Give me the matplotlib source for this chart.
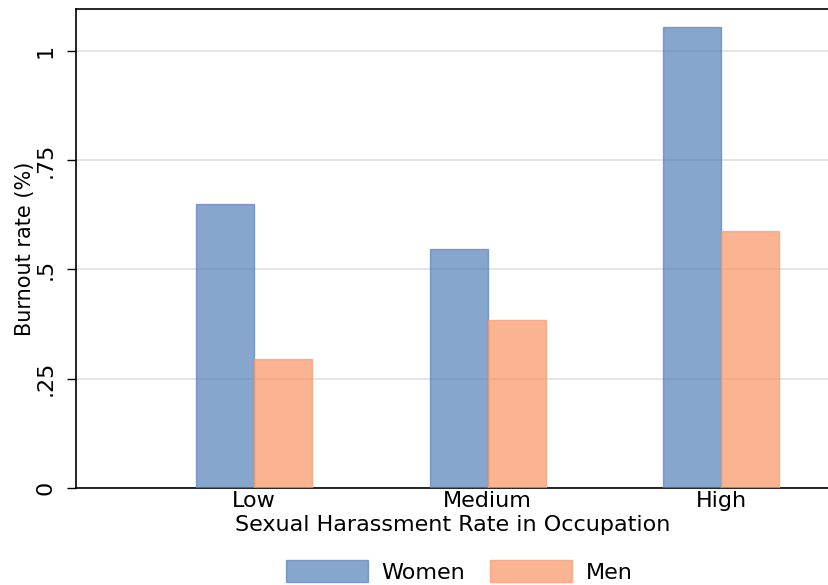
import numpy as np
import matplotlib.pyplot as plt
from matplotlib.patches import Patch

# data
categories = ["Low", "Medium", "High"]
women = [0.649, 0.548, 1.055]
men = [0.296, 0.385, 0.589]

blue = "#5481B9"
orange = "#F99563"
blue_edge = "#5A80BF"
orange_edge = "#F99A6C"
fs = 16

fig = plt.figure(figsize=(8.29, 5.85), dpi=100)
ax = fig.add_axes([0.0917, 0.1658, 0.9083, 0.8188])

x = np.arange(1, len(categories) + 1)
w = 0.248
ax.bar(x - w / 2, women, w, color=blue, alpha=0.7, edgecolor=blue_edge, linewidth=1, zorder=3)
ax.bar(x + w / 2, men, w, color=orange, alpha=0.7, edgecolor=orange_edge, linewidth=1, zorder=3)

ax.set_xlim(0.239, 3.46)
ax.set_ylim(0, 1.096)
ax.set_yticks([0, 0.25, 0.5, 0.75, 1])
ax.set_yticklabels(["0", ".25", ".5", ".75", "1"], rotation=90, va="center")
ax.set_xticks(x)
ax.set_xticklabels(categories)
ax.tick_params(axis="both", labelsize=fs, width=1)
ax.tick_params(axis="y", length=6.5, pad=8.5)
ax.tick_params(axis="x", length=0, pad=2)
ax.grid(axis="y", color="#E0E0E0", linewidth=1.2, zorder=1)
ax.set_axisbelow(True)

for s in ["top", "left", "bottom"]:
    ax.spines[s].set_linewidth(1.2)
ax.spines["right"].set_visible(False)

ax.set_xlabel("Sexual Harassment Rate in Occupation", fontsize=fs, labelpad=3)
ax.set_ylabel("Burnout rate (%)", fontsize=15, labelpad=0)

handles = [Patch(facecolor=blue, alpha=0.7, edgecolor=blue_edge, label="Women"),
           Patch(facecolor=orange, alpha=0.7, edgecolor=orange_edge, label="Men")]
fig.legend(handles=handles, loc="lower center", bbox_to_anchor=(0.554, -0.03), ncol=2,
           frameon=False, fontsize=fs, handlelength=3.7, handleheight=1.1,
           handletextpad=0.6, columnspacing=1.1)

fig.savefig("out.png", dpi=100)
